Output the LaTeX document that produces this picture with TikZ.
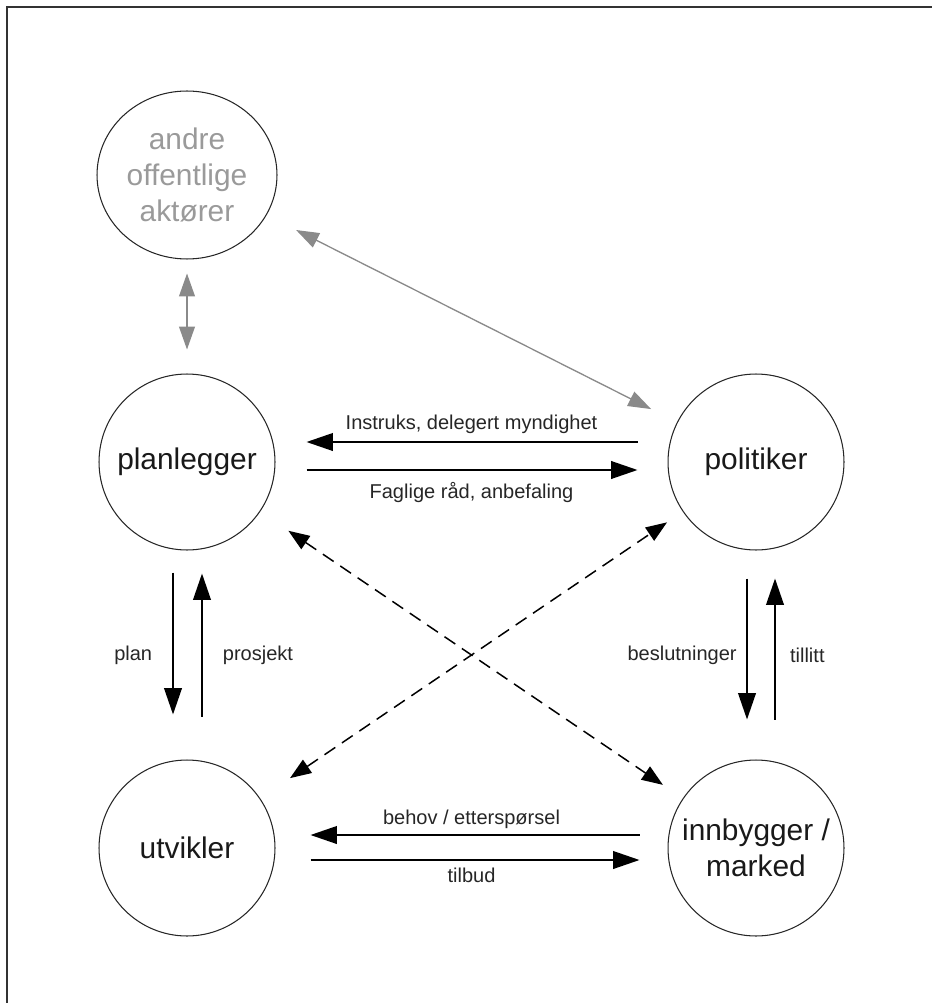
\documentclass[tikz,border=0pt]{standalone}
\usepackage{fontspec}
\setmainfont{Liberation Sans}
\usepackage{xcolor}
\usetikzlibrary{arrows.meta, positioning, calc, shapes.geometric}
\definecolor{graa}{HTML}{8A8A8A}
\definecolor{lysgraa}{HTML}{9A9A9A}
\tikzset{
	aktor/.style={draw=black!85, circle, line width=0.6pt, minimum size=3.52cm, inner sep=0pt, align=center, text=black!90, font=\fontsize{17}{20.5}\selectfont},
	pil/.style={-{Triangle[length=15pt, width=10pt]}, line width=1.1pt},
	grapil/.style={{Triangle[length=13pt, width=9pt]}-{Triangle[length=13pt, width=9pt]}, line width=0.75pt, draw=graa, fill=graa},
	stiplet/.style={{Triangle[length=12pt, width=9pt]}-{Triangle[length=12pt, width=9pt]}, line width=0.85pt, dash pattern=on 0.26cm off 0.16cm},
	etikett/.style={font=\fontsize{11.4}{13.5}\selectfont, text=black!85}
}
\begin{document}
\begin{tikzpicture}[x=0.02cm, y=-0.02cm]
		\useasboundingbox (0,0) rectangle (932,1003);
		\draw[line width=1.7pt, black!80] (7,1010) -- (7,7) -- (940,7);

		\node[aktor, ellipse, minimum width=3.6cm, minimum height=3.36cm, text=lysgraa] (andre aktorer) at (187,175) {andre\\ offentlige\\ aktører};
		\node[aktor] (planlegger) at (187,462) {planlegger};
		\node[aktor] (politiker) at (756,462) {politiker};
		\node[aktor] (utvikler) at (187,848) {utvikler};
		\node[aktor] (innbygger) at (756,848) {innbygger /\\ marked};

		\draw[grapil, shorten <=0.28cm, shorten >=0.48cm] (andre aktorer) to (planlegger);
		\draw[grapil, shorten <=0.66cm, shorten >=0.58cm] (andre aktorer) to (politiker);

		\draw[pil, shorten <=0.6cm, shorten >=0.62cm] ([yshift=0.4cm]politiker.west) to node[etikett, midway, above=1pt] {Instruks, delegert myndighet} ([yshift=0.4cm]planlegger.east);
		\draw[pil, shorten <=0.62cm, shorten >=0.6cm] ([yshift=-0.16cm]planlegger.east) to node[etikett, midway, below=3pt] {Faglige råd, anbefaling} ([yshift=-0.16cm]politiker.west);

		\draw[pil, shorten <=0.44cm, shorten >=0.9cm] ([xshift=-0.28cm]planlegger.south) to node[etikett, midway, left=8pt] {plan} ([xshift=-0.28cm]utvikler.north);
		\draw[pil, shorten <=0.86cm, shorten >=0.46cm] ([xshift=0.3cm]utvikler.north) to node[etikett, midway, right=8pt] {prosjekt} ([xshift=0.3cm]planlegger.south);

		\draw[pil, shorten <=0.56cm, shorten >=0.8cm] ([xshift=-0.18cm]politiker.south) to node[etikett, midway, left=2pt] {beslutninger} ([xshift=-0.18cm]innbygger.north);
		\draw[pil, shorten <=0.8cm, shorten >=0.56cm] ([xshift=0.38cm]innbygger.north) to node[etikett, midway, right=4.7pt] {tillitt} ([xshift=0.38cm]politiker.south);

		\draw[pil, shorten <=0.56cm, shorten >=0.7cm] ([yshift=0.26cm]innbygger.west) to node[etikett, midway, above=0pt] {behov / etterspørsel} ([yshift=0.26cm]utvikler.east);
		\draw[pil, shorten <=0.7cm, shorten >=0.56cm] ([yshift=-0.24cm]utvikler.east) to node[etikett, midway, below=0.5pt] {tilbud} ([yshift=-0.24cm]innbygger.west);

		\draw[stiplet, shorten <=0.68cm, shorten >=0.48cm] (planlegger) to (innbygger);
		\draw[stiplet, shorten <=0.72cm, shorten >=0.38cm] (utvikler) to (politiker);
	\end{tikzpicture}
\end{document}
